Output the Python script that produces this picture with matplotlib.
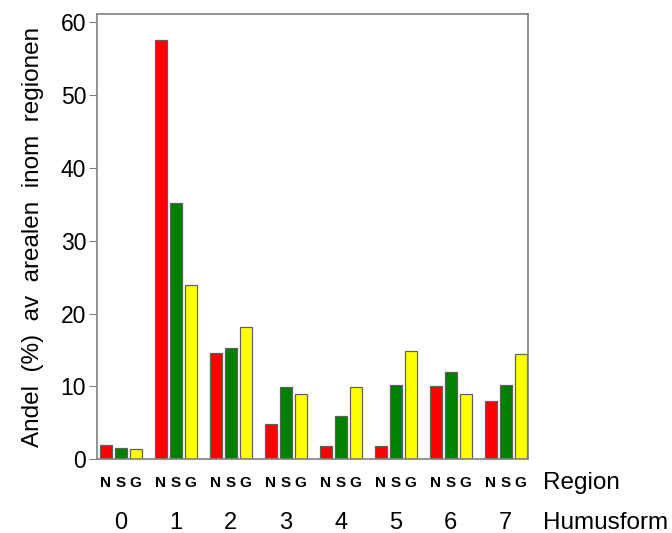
import matplotlib.pyplot as plt
import matplotlib.transforms as mtransforms
import numpy as np

plt.rcParams['font.family'] = ['Liberation Sans', 'DejaVu Sans']

# data
groups = ['0', '1', '2', '3', '4', '5', '6', '7']
series = ['N', 'S', 'G']
n_vals = [2.0, 57.5, 14.6, 4.8, 1.8, 1.8, 10.0, 8.0]
s_vals = [1.6, 35.2, 15.3, 9.9, 6.0, 10.2, 12.0, 10.2]
g_vals = [1.4, 23.9, 18.1, 9.0, 9.9, 14.8, 9.0, 14.4]
colors = ['#ff0000', '#008000', '#ffff00']

fig = plt.figure(figsize=(6.72, 5.33), dpi=100)
ax = fig.add_axes([0.1448, 0.138, 0.6409, 0.835])

x = np.arange(len(groups))
step = 0.273
width = 0.213
for k, vals in enumerate([n_vals, s_vals, g_vals]):
    ax.bar(x + (k - 1) * step, vals, width, color=colors[k],
           edgecolor='#606060', linewidth=0.9)

ax.set_xlim(-0.427, 7.404)
ax.set_ylim(0, 61)
ax.set_yticks([0, 10, 20, 30, 40, 50, 60])
ax.set_xticks([])
ax.tick_params(axis='y', direction='out', length=6, color='#808080',
               labelsize=16.5, pad=2)
for sp in ax.spines.values():
    sp.set_color('#808080')
    sp.set_linewidth(1.2)

ax.set_ylabel('Andel  (%)  av  arealen  inom  regionen', fontsize=17.5,
              labelpad=12)

# labels under the bars
trans = mtransforms.blended_transform_factory(ax.transData, ax.transAxes)
for i in x:
    for k, s in enumerate(series):
        ax.text(i + (k - 1) * step, -0.054, s, transform=trans, ha='center',
                va='center', fontsize=11, fontweight='bold')
    ax.text(i, -0.1426, groups[i], transform=trans, ha='center', va='center',
            fontsize=17)

ax.text(1.0355, -0.054, 'Region', transform=ax.transAxes, ha='left',
        va='center', fontsize=17.5)
ax.text(1.0355, -0.1426, 'Humusform', transform=ax.transAxes, ha='left',
        va='center', fontsize=17.5)

plt.savefig('out.png', dpi=100)
